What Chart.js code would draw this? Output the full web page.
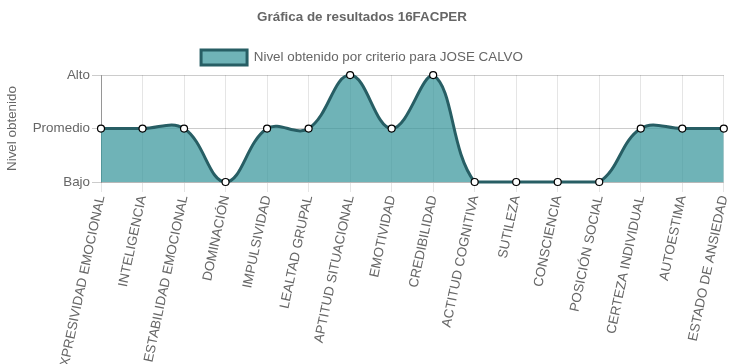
<!DOCTYPE html>
<html>
<head>
<meta charset="utf-8">
<script src="https://cdn.jsdelivr.net/npm/chart.js@4"></script>
<style>
  html, body { margin: 0; padding: 0; background: #fff; }
  #wrap { width: 729px; height: 364px; }
</style>
</head>
<body>
<div id="wrap"><canvas id="grafica"></canvas></div>
<script>
var criterios = ['EXPRESIVIDAD EMOCIONAL', 'INTELIGENCIA', 'ESTABILIDAD EMOCIONAL', 'DOMINACIÓN',
  'IMPULSIVIDAD', 'LEALTAD GRUPAL', 'APTITUD SITUACIONAL', 'EMOTIVIDAD', 'CREDIBILIDAD',
  'ACTITUD COGNITIVA', 'SUTILEZA', 'CONSCIENCIA', 'POSICIÓN SOCIAL', 'CERTEZA INDIVIDUAL',
  'AUTOESTIMA', 'ESTADO DE ANSIEDAD'];
// 0 = Bajo, 1 = Promedio, 2 = Alto
var niveles = [1, 1, 1, 0, 1, 1, 2, 1, 2, 0, 0, 0, 0, 1, 1, 1];
var nombresNivel = ['Bajo', 'Promedio', 'Alto'];

Chart.defaults.font.family = "'Liberation Sans', Arial, sans-serif";
Chart.defaults.font.size = 13.4;
Chart.defaults.color = '#666';

var ctx = document.getElementById('grafica').getContext('2d');
var grafica = new Chart(ctx, {
    type: 'line',
    data: {
        labels: criterios,
        datasets: [{
            label: 'Nivel obtenido por criterio para JOSE CALVO',
            data: niveles,
            borderColor: '#275e64',
            backgroundColor: 'rgba(56, 150, 155, 0.72)',
            borderWidth: 3,
            fill: true,
            tension: 0.4,
            clip: false,
            pointRadius: 3.5,
            pointBorderWidth: 1.2,
            pointBackgroundColor: '#fff',
            pointBorderColor: '#000'
        }]
    },
    options: {
        responsive: true,
        maintainAspectRatio: false,
        animation: false,
        layout: { padding: { top: 0, right: 5 } },
        plugins: {
            title: {
                display: true,
                text: 'Gráfica de resultados 16FACPER',
                font: { size: 13.4, weight: 'bold' },
                padding: { top: 9, bottom: 15 }
            },
            legend: {
                labels: { boxWidth: 46, boxHeight: 15, padding: 10 }
            },
            tooltip: { enabled: false }
        },
        scales: {
            y: {
                min: 0,
                max: 2,
                ticks: {
                    stepSize: 1,
                    padding: 2,
                    callback: function (v) { return nombresNivel[v]; }
                },
                grid: { color: 'rgba(0,0,0,0.2)', tickLength: 9 },
                border: { color: 'rgba(0,0,0,0.35)' },
                title: { display: true, text: 'Nivel obtenido', padding: 4 },
                afterFit: function (s) { s.width = 101; }
            },
            x: {
                ticks: { minRotation: 78, maxRotation: 78, autoSkip: false, padding: 2 },
                grid: { color: 'rgba(0,0,0,0.1)', tickLength: 10, offset: false },
                afterFit: function (s) { s.height = 182; s.paddingRight = 0; s.paddingLeft = 0; }
            }
        }
    }
});
</script>
</body>
</html>
